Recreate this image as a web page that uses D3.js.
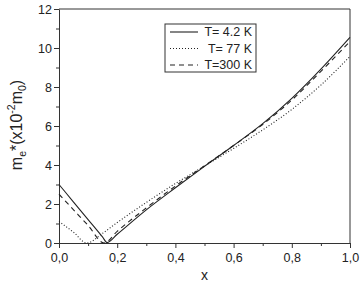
<!DOCTYPE html>
<html>
<head>
<meta charset="utf-8">
<script src="https://cdn.jsdelivr.net/npm/d3@7"></script>
<style>
  body { margin: 0; background: #fff; }
  text { font-family: "Liberation Sans", Arial, sans-serif; fill: #222; }
</style>
</head>
<body>
<div id="chart"></div>
<script>
// values
var xs4 = [0, 0.05, 0.1, 0.15, 0.165, 0.2, 0.3, 0.4, 0.5, 0.6, 0.7, 0.8, 0.9, 1.0];
var m4 = [3.0, 2.1, 1.2, 0.3, 0.02, 0.45, 1.7, 2.83, 3.93, 5.0, 6.12, 7.42, 8.92, 10.55];

var xs77 = [0, 0.05, 0.095, 0.15, 0.2, 0.3, 0.4, 0.5, 0.6, 0.7, 0.8, 0.9, 1.0];
var m77 = [1.1, 0.55, 0.0, 0.5, 1.05, 2.08, 3.05, 3.95, 4.85, 5.8, 6.85, 8.1, 9.57];

var xs300 = [0, 0.05, 0.1, 0.155, 0.2, 0.3, 0.4, 0.5, 0.6, 0.7, 0.8, 0.9, 1.0];
var m300 = [2.5, 1.7, 0.9, 0.0, 0.6, 1.8, 2.92, 3.96, 5.0, 6.08, 7.33, 8.8, 10.34];

var legendLabels = ["T= 4.2 K", "T= 77 K", "T=300 K"];
var xTicks = [0, 0.2, 0.4, 0.6, 0.8, 1.0];
var yTicks = [0, 2, 4, 6, 8, 10, 12];

var width = 361, height = 282;
var margin = {left: 59, right: 11, top: 9, bottom: 39};

var svg = d3.select("#chart").append("svg")
    .attr("width", width)
    .attr("height", height);

var x = d3.scaleLinear().domain([0, 1]).range([margin.left, width - margin.right]);
var y = d3.scaleLinear().domain([0, 12]).range([height - margin.bottom, margin.top]);

var fmt = function(d) { return d3.format(".1f")(d).replace(".", ","); };

// minor ticks
svg.append("g")
    .attr("transform", "translate(0," + y(0) + ")")
    .call(d3.axisBottom(x).tickValues(d3.range(0.1, 1, 0.2)).tickSize(3).tickFormat(""))
    .call(function(g) { g.select(".domain").remove(); });
svg.append("g")
    .attr("transform", "translate(" + x(0) + ",0)")
    .call(d3.axisLeft(y).tickValues(d3.range(1, 12, 2)).tickSize(3).tickFormat(""))
    .call(function(g) { g.select(".domain").remove(); });

var xAxis = svg.append("g")
    .attr("transform", "translate(0," + y(0) + ")")
    .call(d3.axisBottom(x).tickValues(xTicks).tickSize(5).tickSizeOuter(0).tickFormat(fmt));
xAxis.selectAll("text").attr("font-size", "12.5px").attr("dy", "0.9em");

var yAxis = svg.append("g")
    .attr("transform", "translate(" + x(0) + ",0)")
    .call(d3.axisLeft(y).tickValues(yTicks).tickSize(5).tickSizeOuter(0));
yAxis.selectAll("text").attr("font-size", "12.5px").attr("x", -7);

svg.selectAll(".domain, .tick line").attr("stroke", "#333");

// frame top and right
svg.append("line").attr("x1", x(0)).attr("x2", x(1)).attr("y1", y(12)).attr("y2", y(12)).attr("stroke", "#333");
svg.append("line").attr("x1", x(1)).attr("x2", x(1)).attr("y1", y(12)).attr("y2", y(0)).attr("stroke", "#333");

var series = [
    {xs: xs4, ys: m4, dash: null},
    {xs: xs77, ys: m77, dash: "1,2"},
    {xs: xs300, ys: m300, dash: "5,4"}
];

var line = d3.line()
    .x(function(d) { return x(d[0]); })
    .y(function(d) { return y(d[1]); })
    .curve(d3.curveMonotoneX);

series.forEach(function(s) {
    svg.append("path")
        .datum(d3.zip(s.xs, s.ys))
        .attr("d", line)
        .attr("fill", "none")
        .attr("stroke", "#222")
        .attr("stroke-width", 1.1)
        .attr("stroke-dasharray", s.dash);
});

// legend
var legend = svg.append("g").attr("transform", "translate(165,24)");
legend.append("rect")
    .attr("width", 91).attr("height", 48)
    .attr("fill", "#fff").attr("stroke", "#333");
series.forEach(function(s, i) {
    var ly = 8 + i * 16.5;
    legend.append("line")
        .attr("x1", 5).attr("x2", 33).attr("y1", ly).attr("y2", ly)
        .attr("stroke", "#222").attr("stroke-width", 1.1)
        .attr("stroke-dasharray", s.dash);
    legend.append("text")
        .attr("x", 87).attr("y", ly).attr("dy", "0.35em")
        .attr("text-anchor", "end")
        .attr("font-size", "12.5px")
        .text(legendLabels[i]);
});

// axis titles
svg.append("text")
    .attr("x", x(0.5)).attr("y", 280)
    .attr("text-anchor", "middle")
    .attr("font-size", "14px")
    .text("x");

var yl = svg.append("text")
    .attr("transform", "translate(22,125) rotate(-90)")
    .attr("text-anchor", "middle")
    .attr("font-size", "16px");
yl.append("tspan").text("m");
yl.append("tspan").attr("font-size", "10.5px").attr("dy", 4).text("e");
yl.append("tspan").attr("dy", -4).text("*(x10");
yl.append("tspan").attr("font-size", "10.5px").attr("dy", -7).text("-2");
yl.append("tspan").attr("dy", 7).text("m");
yl.append("tspan").attr("font-size", "10.5px").attr("dy", 4).text("0");
yl.append("tspan").attr("dy", -4).text(")");
</script>
</body>
</html>
